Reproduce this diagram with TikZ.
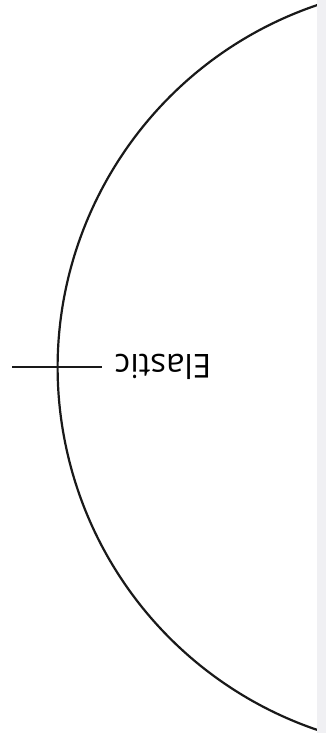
\documentclass[tikz,border=0pt]{standalone}
\usepackage{fontspec}
\setmainfont{Open Sans}
\definecolor{strip}{RGB}{240,240,243}
\begin{document}
\begin{tikzpicture}[x=1pt,y=1pt,
  curve/.style={line width=2.2pt,black!90},
  lbl/.style={font=\fontsize{33}{36}\selectfont,inner sep=0pt,rotate=180,anchor=base}]
\useasboundingbox (0,0) rectangle (326,733);
\fill[white] (0,0) rectangle (326,733);
\coordinate (ctr) at (440.5,365.5);
\draw[curve] ([shift={(105:382.8)}]ctr) arc[start angle=105,end angle=255,radius=382.8];
\fill[strip] (317,0) rectangle (326,733);
\coordinate (l1) at (12,366.3);
\coordinate (l2) at (102,366.3);
\draw[curve] (l1) -- (l2);
\node[lbl] (t) at (163,378.5) {Elastic};
\end{tikzpicture}
\end{document}
